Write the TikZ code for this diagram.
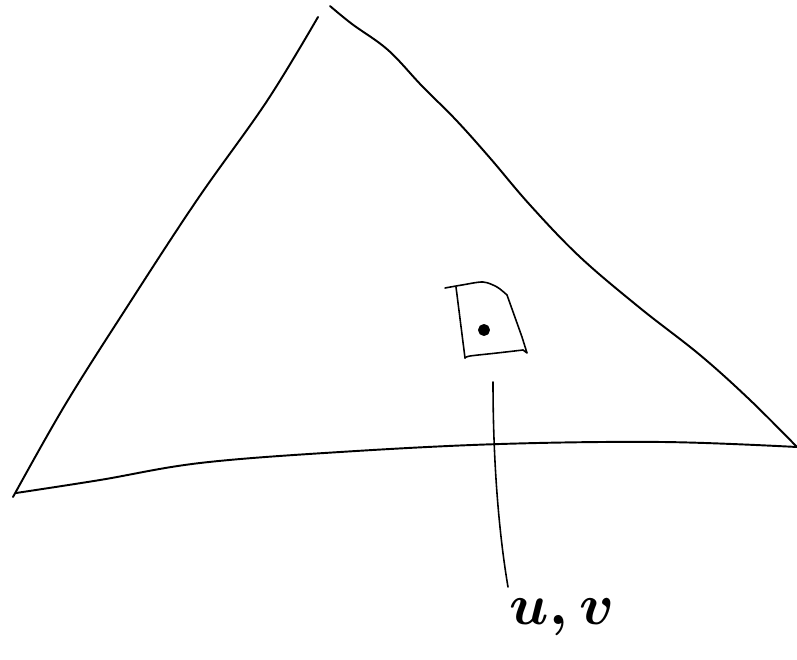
\documentclass[tikz,border=0pt]{standalone}
\usepackage{amsmath}
\usepackage{amssymb}
\usepackage{tikz}
\begin{document}
\begin{tikzpicture}[x=0.02cm,y=-0.02cm,line width=1.1pt,line cap=round,line join=round]
    \useasboundingbox (0,0) rectangle (797,659);
    % triangle
    \draw plot[smooth,tension=0.6] coordinates {(13,497) (65,405) (127,307) (197,200) (267,101) (318,17)};
    \draw plot[smooth,tension=0.6] coordinates {(330,6) (352,24) (388,50) (422,86) (456,120) (490,158) (530,205) (580,257) (640,308) (700,355) (750,400) (797,447)};
    \draw plot[smooth,tension=0.6] coordinates {(16,493) (100,480) (200,463) (340,452) (500,444) (663,442) (797,447)};
    % small cell with the point
    \draw[line width=0.9pt] plot[smooth,tension=0.5] coordinates {(445,288) (462,285) (483,282) (497,287) (507,295)};
    \draw[line width=0.9pt] (456,287) -- (465,358);
    \draw[line width=0.9pt] (507,295) -- (522,337) -- (527,353) -- (523,350);
    \draw[line width=0.9pt] plot[smooth,tension=0.5] coordinates {(465,358) (470,356) (497,353) (523,350)};
    \filldraw[black] (484,330) circle (5);
    % label
    \coordinate (cellfoot) at (493,382);
    \coordinate (lineend) at (508,587);
    \node[scale=3.3] (uv) at (562,617) {$\boldsymbol{u,v}$};
    \draw[line width=0.9pt] (cellfoot) .. controls (493,470) and (500,540) .. (lineend);
\end{tikzpicture}
\end{document}
